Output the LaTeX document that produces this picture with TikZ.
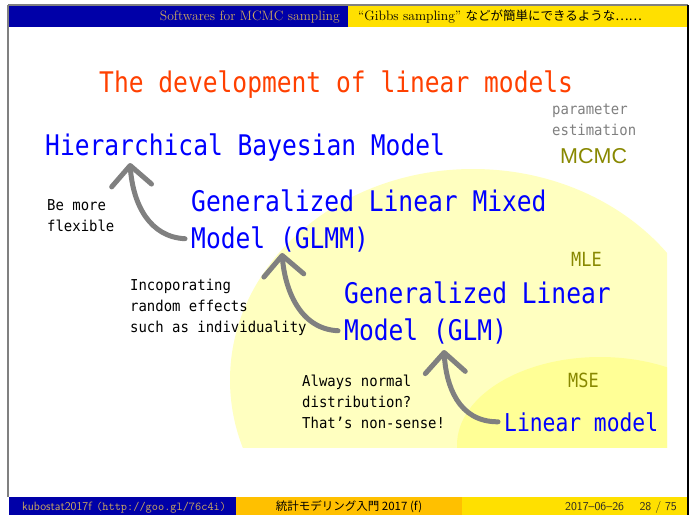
\documentclass[tikz,border=0pt]{standalone}
\usepackage{fontspec}
\usetikzlibrary{arrows.meta}
\newfontfamily\monoA[FakeStretch=0.866]{DejaVu Sans Mono}
\newfontfamily\monoB[FakeStretch=0.93]{DejaVu Sans Mono}
\newfontfamily\jpfont{Noto Sans CJK JP}
\newfontfamily\arialf{Liberation Sans}
\definecolor{hdrblue}{RGB}{0,0,168}
\definecolor{hdryellow}{RGB}{255,224,0}
\definecolor{hdrorange}{RGB}{255,192,0}
\definecolor{goldtxt}{RGB}{204,168,96}
\definecolor{lighty}{RGB}{255,255,192}
\definecolor{midy}{RGB}{255,255,150}
\definecolor{titlered}{RGB}{255,64,0}
\definecolor{bluet}{RGB}{0,0,255}
\definecolor{olivet}{RGB}{136,136,0}
\definecolor{grayt}{RGB}{128,128,128}
\definecolor{arrgray}{RGB}{128,128,128}
\begin{document}
\begin{tikzpicture}[x=1pt,y=-1pt,
  bigtxt/.style={font=\monoA\fontsize{28.4}{34}\selectfont, text=bluet, anchor=base west, inner sep=0pt},
  smalltxt/.style={font=\monoB\fontsize{15}{21}\selectfont, text=black, anchor=base west, inner sep=0pt, align=left},
  oltxt/.style={font=\monoA\fontsize{19.5}{22}\selectfont, text=olivet, anchor=base west, inner sep=0pt},
  devarrow/.style={draw=arrgray, line width=5pt, line cap=round, -{Straight Barb[length=20pt,width=40pt,round]}, shorten <=6pt}
]
\useasboundingbox (0,0) rectangle (695,515);
\fill[white] (0,0) rectangle (695,515);
% background ellipses
\begin{scope}
  \clip (9,28) rectangle (667,447);
  \fill[lighty] (473,380) ellipse [x radius=243, y radius=211];
  \fill[midy] (600,445) ellipse [x radius=143, y radius=88];
\end{scope}
% header
\fill[hdrblue] (9,6) rectangle (348,27);
\fill[hdryellow] (348,6) rectangle (687,27);
\node[anchor=base east, inner sep=0pt, text=goldtxt, font=\fontsize{13.6}{15}\selectfont] (hl) at (340,20) {Softwares for MCMC sampling};
\node[anchor=base west, inner sep=0pt, text=black, font=\fontsize{13.6}{15}\selectfont] (hr) at (358,20) {“Gibbs sampling” {\jpfont\fontsize{12.5}{15}\selectfont などが簡単にできるような……}};
% footer
\fill[hdrblue] (9,497) rectangle (236,515);
\fill[hdrorange] (236,497) rectangle (462,515);
\fill[hdryellow] (462,497) rectangle (687,515);
\node[anchor=base west, inner sep=0pt, text=goldtxt, font=\sffamily\fontsize{12}{13}\selectfont] (fl) at (22,510) {kubostat2017f \texttt{(http://goo.gl/76c4i)}};
\node[anchor=base, inner sep=0pt, text=black, font=\fontsize{11.5}{13}\selectfont] (fc) at (349,510) {{\jpfont 統計モデリング入門 2017 (f)}};
\node[anchor=base west, inner sep=0pt, text=black!85, font=\sffamily\fontsize{12}{13}\selectfont] (fd) at (565,510) {2017--06--26};
\node[anchor=base east, inner sep=0pt, text=black!85, font=\sffamily\fontsize{12}{13}\selectfont] (fp) at (677,510) {28 / 75};
% frame
\draw[gray, line width=1.2pt] (8,5) -- (688,5);
\draw[gray, line width=1.5pt] (8,5) -- (8,497);
\draw[black, line width=2pt] (687.5,5) -- (687.5,515);
% title
\node[bigtxt, text=titlered] (title) at (99,92) {The development of linear models};
% side labels
\node[smalltxt, text=grayt] (pe) at (552,135) {parameter\\estimation};
\node[anchor=base west, inner sep=0pt, text=olivet, font=\arialf\fontsize{21.5}{24}\selectfont] (mcmc) at (560,163) {MCMC};
\node[oltxt] (mle) at (571,266) {MLE};
\node[oltxt] (mse) at (568,387) {MSE};
% models
\node[bigtxt] (hbm) at (45,155) {Hierarchical Bayesian Model};
\node[bigtxt] (glmmA) at (191,211) {Generalized Linear Mixed};
\node[bigtxt] (glmmB) at (191,248) {Model (GLMM)};
\node[bigtxt] (glmA) at (344,303) {Generalized Linear};
\node[bigtxt] (glmB) at (344,340) {Model (GLM)};
\node[bigtxt, font=\monoA\fontsize{24.6}{30}\selectfont] (lin) at (504,431) {Linear model};
% annotations (base = last line's baseline)
\node[smalltxt] (flex) at (47,231) {Be more\\flexible};
\node[smalltxt] (rand) at (130,332) {Incoporating\\random effects\\such as individuality};
\node[smalltxt] (norm) at (302,428) {Always normal\\distribution?\\That’s non-sense!};
% arrow tips
\coordinate (tipA) at (130,163);
\coordinate (tipB) at (282,253);
\coordinate (tipC) at (444,350);
\draw[devarrow] (glmmB.west) .. controls (150,237) and (133,205) .. (tipA);
\draw[devarrow] (glmB.west) .. controls (300,329) and (285,290) .. (tipB);
\draw[devarrow] (lin.west) .. controls (458,422) and (446,385) .. (tipC);
\end{tikzpicture}
\end{document}
